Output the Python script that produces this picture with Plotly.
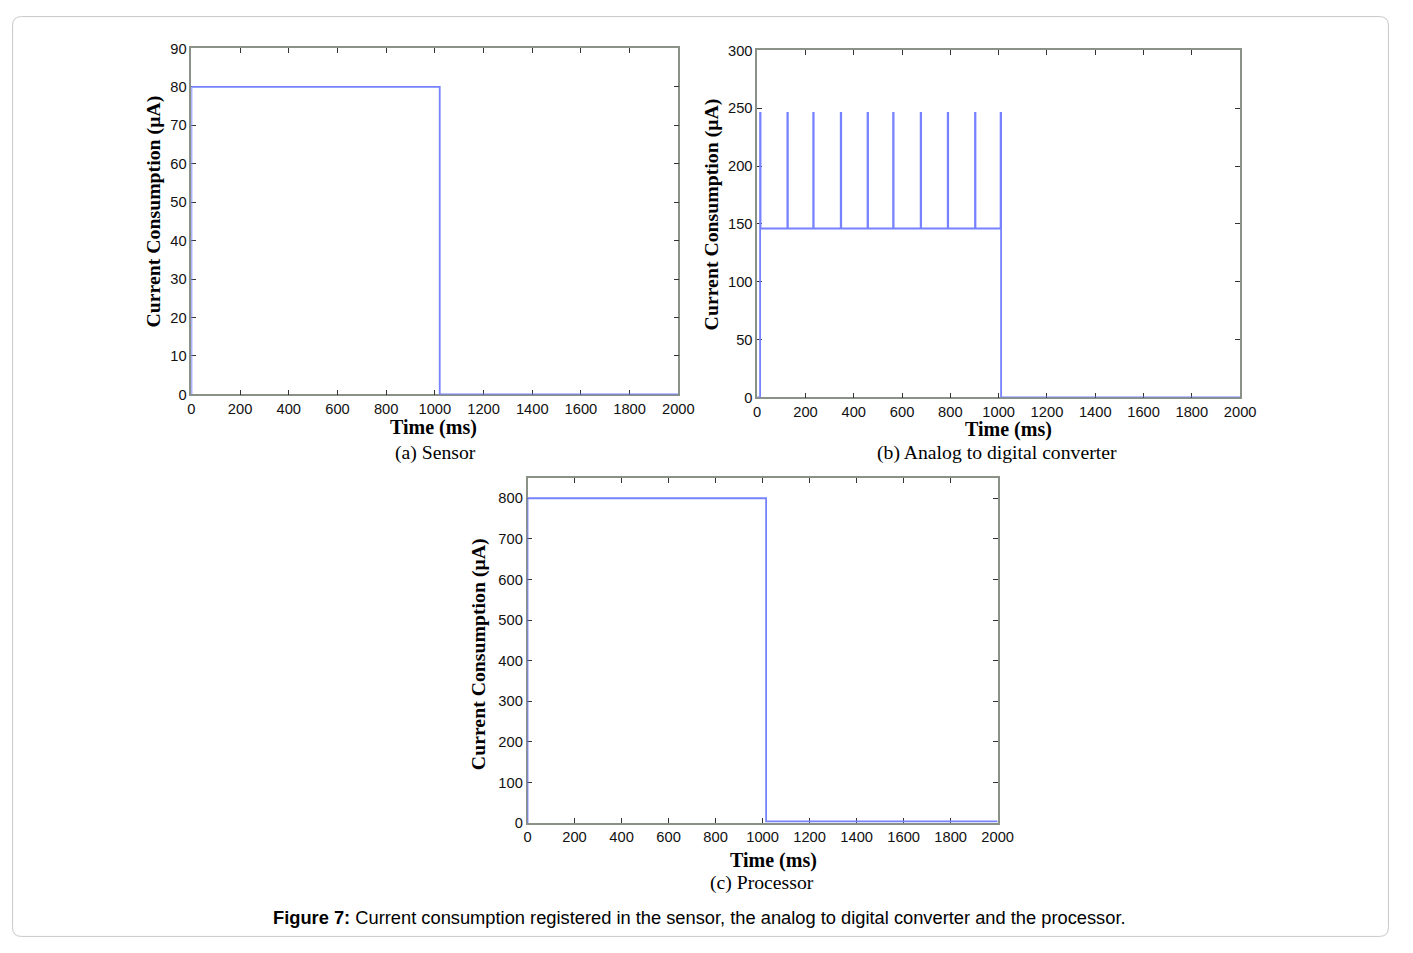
import plotly.graph_objects as go

# page is 1413x953; browser body keeps its default 8px margin, so the figure is 1397x937
PAGE_W, PAGE_H = 1413, 953
OFF = 8
W, H = PAGE_W - 2 * OFF, PAGE_H - 2 * OFF

# ---------------- data ----------------
time_ticks = [0, 200, 400, 600, 800, 1000, 1200, 1400, 1600, 1800, 2000]

# (a) Sensor
sensor_time = [0, 0, 1020, 2000]
sensor_current = [0, 80, 0, 0]
sensor_yticks = [0, 10, 20, 30, 40, 50, 60, 70, 80, 90]

# (b) Analog to digital converter
adc_spike_times = [12, 125, 232, 346, 457, 563, 677, 789, 902, 1008]
adc_base_level = 146
adc_peak_level = 246
adc_off_level = 0
adc_end_time = 2000
adc_yticks = [0, 50, 100, 150, 200, 250, 300]

# (c) Processor
proc_time = [0, 0, 1015, 2000]
proc_current = [0, 800, 4, 4]
proc_yticks = [0, 100, 200, 300, 400, 500, 600, 700, 800]

# build ADC step series from the spike list
adc_time = [0]
adc_current = [adc_off_level]
for i, t in enumerate(adc_spike_times):
    adc_time.append(t)
    adc_current.append(adc_peak_level)
    adc_time.append(t + 2)
    adc_current.append(adc_base_level if i < len(adc_spike_times) - 1 else adc_off_level)
adc_time.append(adc_end_time)
adc_current.append(adc_off_level)

# ---------------- figure ----------------
LINE = dict(color="rgb(118,130,255)", width=1.8, shape="hv")

fig = go.Figure()
fig.add_trace(go.Scatter(x=sensor_time, y=sensor_current, mode="lines", line=LINE,
                         xaxis="x", yaxis="y", showlegend=False, hoverinfo="skip"))
fig.add_trace(go.Scatter(x=adc_time, y=adc_current, mode="lines", line=LINE,
                         xaxis="x2", yaxis="y2", showlegend=False, hoverinfo="skip"))
fig.add_trace(go.Scatter(x=proc_time, y=proc_current, mode="lines", line=LINE,
                         xaxis="x3", yaxis="y3", showlegend=False, hoverinfo="skip"))


def fx(px):
    return (px - OFF) / W


def fy(py):
    return 1 - (py - OFF) / H


def px_x(a, b):
    return [fx(a), fx(b)]


def px_y(top, bottom):
    return [fy(bottom), fy(top)]


TICKFONT = dict(family="Liberation Sans, Arial, sans-serif", size=14.7, color="#111")
common = dict(showline=True, mirror="ticks", linecolor="#8a9186", linewidth=1.5,
              ticks="inside", ticklen=5, tickcolor="#333", tickwidth=1.2,
              showgrid=False, zeroline=False, tickfont=TICKFONT, layer="below traces")

layout = dict(
    width=W, height=H, margin=dict(l=0, r=0, t=0, b=0),
    paper_bgcolor="white", plot_bgcolor="white",
    xaxis=dict(domain=px_x(190, 684), range=[0, 2000], tickvals=time_ticks, anchor="y", **common),
    yaxis=dict(domain=px_y(41, 393), range=[0, 90], tickvals=sensor_yticks, anchor="x", **common),
    xaxis2=dict(domain=px_x(764, 1254), range=[0, 2000], tickvals=time_ticks, anchor="y2", **common),
    yaxis2=dict(domain=px_y(43, 396), range=[0, 300], tickvals=adc_yticks, anchor="x2", **common),
    xaxis3=dict(domain=px_x(531, 1008), range=[0, 2000], tickvals=time_ticks, anchor="y3", **common),
    yaxis3=dict(domain=px_y(478, 829), range=[0, 850], tickvals=proc_yticks, anchor="x3", **common),
)
fig.update_layout(**layout)

SERIF = "Liberation Serif, Times New Roman, serif"
ann = []


def add_text(text, x, y, size, bold=False, angle=0, family=SERIF):
    if bold:
        text = "<b>" + text + "</b>"
    ann.append(dict(text=text, x=fx(x), y=fy(y), xref="paper", yref="paper",
                    showarrow=False, textangle=angle, xanchor="center", yanchor="middle",
                    font=dict(family=family, size=size, color="#000")))


# axis titles
add_text("Current Consumption (μA)", 152, 207, 19.8, bold=True, angle=-90)
add_text("Current Consumption (μA)", 718, 210, 19.8, bold=True, angle=-90)
add_text("Current Consumption (μA)", 482, 657, 19.8, bold=True, angle=-90)
add_text("Time (ms)", 436, 427, 20, bold=True)
add_text("Time (ms)", 1019, 429, 20, bold=True)
add_text("Time (ms)", 781, 867, 20, bold=True)
# sub captions
add_text("(a) Sensor", 438, 452, 19.7)
add_text("(b) Analog to digital converter", 1007, 452, 19.7)
add_text("(c) Processor", 769, 890, 19.7)
# figure caption
add_text("<b>Figure 7:</b> Current consumption registered in the sensor, the analog to digital converter and the processor.",
         705, 925, 18.3, family="Liberation Sans, Arial, sans-serif")

fig.update_layout(annotations=ann)

# rounded outer border (hugging the figure edge)
x0, y0, x1, y1, r = 0.6 / W, 1 - 0.6 / H, 1 - 0.6 / W, 0.6 / H, 9
rx, ry = r / W, r / H
path = (f"M {x0+rx},{y0} L {x1-rx},{y0} Q {x1},{y0} {x1},{y0-ry} "
        f"L {x1},{y1+ry} Q {x1},{y1} {x1-rx},{y1} L {x0+rx},{y1} Q {x0},{y1} {x0},{y1+ry} "
        f"L {x0},{y0-ry} Q {x0},{y0} {x0+rx},{y0} Z")
fig.update_layout(shapes=[dict(type="path", path=path, xref="paper", yref="paper",
                               line=dict(color="#c8c8c8", width=1), fillcolor="rgba(0,0,0,0)")])

fig.write_html("out.html", config={"displayModeBar": False})
